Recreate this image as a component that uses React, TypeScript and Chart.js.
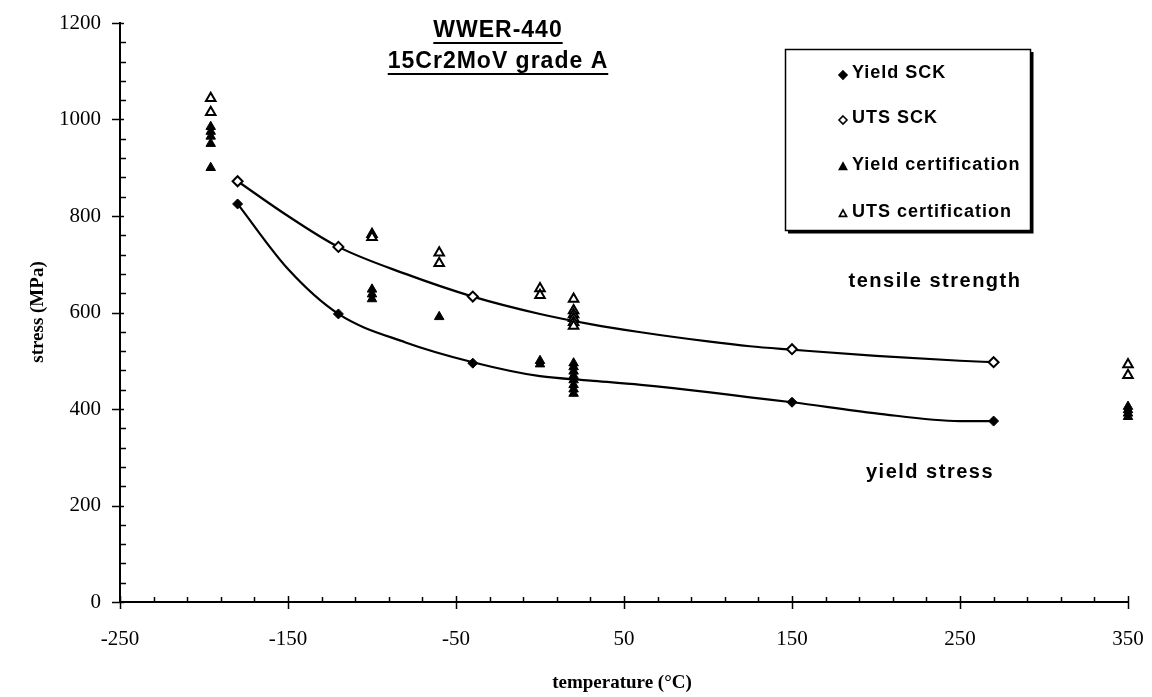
import React, { useEffect, useRef } from 'react';
import { Chart, registerables } from 'chart.js';

Chart.register(...registerables);

// ---- axis ticks ----
const X_TICKS = [-250, -150, -50, 50, 150, 250, 350];
const Y_TICKS = [0, 200, 400, 600, 800, 1000, 1200];
const X_MINOR_STEP = 20;
const Y_MINOR_STEP = 40;

// ---- SCK measurements ----
const YIELD_SCK_T = [-180, -120, -40, 150, 270];
const YIELD_SCK_V = [825, 597, 495, 414, 375];
const UTS_SCK_T = [-180, -120, -40, 150, 270];
const UTS_SCK_V = [872, 736, 633, 524, 497];

// ---- certification values ----
const YIELD_CERT_T = [-196, -196, -196, -196, -196, -100, -100, -100, -60, 0, 0, 20, 20, 20, 20, 20, 20, 20, 20, 350, 350, 350, 350];
const YIELD_CERT_V = [985, 975, 965, 950, 900, 648, 638, 628, 591, 500, 493, 495, 487, 478, 469, 460, 450, 441, 432, 405, 398, 391, 384];
const UTS_CERT_T = [-196, -196, -100, -100, -60, -60, 0, 0, 20, 20, 20, 20, 20, 20, 350, 350];
const UTS_CERT_V = [1044, 1015, 762, 756, 724, 702, 650, 636, 628, 604, 596, 588, 580, 572, 492, 470];

// ---- fitted curves ----
const YIELD_CURVE_T = [-180, -150, -120, -80, -40, 0, 30, 60, 100, 125, 150, 200, 250, 270];
const YIELD_CURVE_V = [825, 690, 597, 538, 497, 468, 459, 450, 435, 424, 414, 391, 375, 375];
const UTS_CURVE_T = [-180, -150, -120, -80, -40, 0, 30, 60, 100, 125, 150, 200, 250, 270];
const UTS_CURVE_V = [872, 800, 736, 680, 633, 597, 576, 559, 540, 530, 523, 510, 500, 497];

const LEGEND_LABELS = ['Yield SCK', 'UTS SCK', 'Yield certification', 'UTS certification'];
const TITLE_LINES = ['WWER-440', '15Cr2MoV grade A'];
const X_TITLE = 'temperature (°C)';
const Y_TITLE = 'stress (MPa)';
const CURVE_LABELS = ['tensile strength', 'yield stress'];

const pts = (t: number[], v: number[]) => t.map((x, i) => ({ x, y: v[i] }));

function marker(ctx: CanvasRenderingContext2D, kind: string, x: number, y: number, r: number, filled: boolean) {
  ctx.save();
  ctx.beginPath();
  if (kind === 'diamond') {
    ctx.moveTo(x, y - r);
    ctx.lineTo(x + r, y);
    ctx.lineTo(x, y + r);
    ctx.lineTo(x - r, y);
  } else {
    ctx.moveTo(x, y - r);
    ctx.lineTo(x + r * 0.9, y + r * 0.6);
    ctx.lineTo(x - r * 0.9, y + r * 0.6);
  }
  ctx.closePath();
  ctx.fillStyle = filled ? '#000' : '#fff';
  ctx.fill();
  ctx.lineWidth = 1.6;
  ctx.strokeStyle = '#000';
  ctx.stroke();
  ctx.restore();
}

const decorPlugin = {
  id: 'decor',
  afterDraw(chart: any) {
    const { ctx, chartArea, scales } = chart;
    const xs = scales.x;
    const ys = scales.y;
    ctx.save();
    ctx.strokeStyle = '#000';
    ctx.lineWidth = 1.5;
    // y ticks
    for (let v = Y_TICKS[0]; v <= Y_TICKS[Y_TICKS.length - 1]; v += Y_MINOR_STEP) {
      const py = Math.round(ys.getPixelForValue(v)) + 0.5;
      ctx.beginPath();
      if (Y_TICKS.includes(v)) {
        ctx.moveTo(chartArea.left - 8, py);
        ctx.lineTo(chartArea.left + 4, py);
      } else {
        ctx.moveTo(chartArea.left, py);
        ctx.lineTo(chartArea.left + 6, py);
      }
      ctx.stroke();
    }
    // x ticks
    for (let v = X_TICKS[0]; v <= X_TICKS[X_TICKS.length - 1]; v += X_MINOR_STEP) {
      const px = Math.round(xs.getPixelForValue(v)) + 0.5;
      ctx.beginPath();
      if (X_TICKS.includes(v)) {
        ctx.moveTo(px, chartArea.bottom - 6);
        ctx.lineTo(px, chartArea.bottom + 7);
      } else {
        ctx.moveTo(px, chartArea.bottom);
        ctx.lineTo(px, chartArea.bottom - 5);
      }
      ctx.stroke();
    }

    // title
    ctx.fillStyle = '#000';
    ctx.font = 'bold 23px "Liberation Sans", Arial, sans-serif';
    (ctx as any).letterSpacing = '1px';
    ctx.textAlign = 'center';
    ctx.textBaseline = 'middle';
    const titleX = 498;
    const titleY = [31, 62];
    TITLE_LINES.forEach((s, i) => {
      ctx.fillText(s, titleX, titleY[i]);
      const w = ctx.measureText(s).width;
      ctx.lineWidth = 1.8;
      ctx.beginPath();
      ctx.moveTo(titleX - w / 2, titleY[i] + 12);
      ctx.lineTo(titleX + w / 2, titleY[i] + 12);
      ctx.stroke();
    });

    // curve labels
    ctx.font = 'bold 20px "Liberation Sans", Arial, sans-serif';
    (ctx as any).letterSpacing = '1.5px';
    ctx.fillText(CURVE_LABELS[0], 935, 281);
    ctx.fillText(CURVE_LABELS[1], 930, 472);

    // legend box
    const bx = 785, by = 49, bw = 245, bh = 181;
    ctx.fillStyle = '#fff';
    ctx.fillRect(bx, by, bw, bh);
    ctx.lineWidth = 1.5;
    ctx.strokeRect(bx + 0.5, by + 0.5, bw, bh);
    ctx.lineWidth = 3;
    ctx.beginPath();
    ctx.moveTo(bx + 3, by + bh + 2);
    ctx.lineTo(bx + bw + 2, by + bh + 2);
    ctx.lineTo(bx + bw + 2, by + 3);
    ctx.stroke();
    const kinds = [['diamond', true], ['diamond', false], ['triangle', true], ['triangle', false]];
    const rowY = [73, 118, 165, 212];
    ctx.font = 'bold 18px "Liberation Sans", Arial, sans-serif';
    (ctx as any).letterSpacing = '1px';
    ctx.textAlign = 'left';
    LEGEND_LABELS.forEach((s, i) => {
      marker(ctx, kinds[i][0] as string, 843, rowY[i] + 2, 4, kinds[i][1] as boolean);
      ctx.fillStyle = '#000';
      ctx.fillText(s, 852, rowY[i]);
    });

    // axis titles
    (ctx as any).letterSpacing = '0px';
    ctx.font = 'bold 19px "Liberation Serif", "Times New Roman", serif';
    ctx.textAlign = 'center';
    ctx.fillText(X_TITLE, 622, 683);
    ctx.save();
    ctx.translate(38, 312);
    ctx.rotate(-Math.PI / 2);
    ctx.fillText(Y_TITLE, 0, 0);
    ctx.restore();
    ctx.restore();
  },
};

export default function App() {
  const ref = useRef<HTMLCanvasElement | null>(null);
  useEffect(() => {
    if (!ref.current) return;
    const tickFont = { family: '"Liberation Serif", "Times New Roman", serif', size: 21 };
    const chart = new Chart(ref.current, {
      type: 'scatter',
      data: {
        datasets: [
          {
            label: 'yield curve',
            data: pts(YIELD_CURVE_T, YIELD_CURVE_V),
            showLine: true,
            pointRadius: 0,
            borderColor: '#000',
            borderWidth: 2.2,
            cubicInterpolationMode: 'monotone',
            order: 10,
            clip: false,
          } as any,
          {
            label: 'uts curve',
            data: pts(UTS_CURVE_T, UTS_CURVE_V),
            showLine: true,
            pointRadius: 0,
            borderColor: '#000',
            borderWidth: 2.2,
            cubicInterpolationMode: 'monotone',
            order: 10,
            clip: false,
          },
          {
            label: LEGEND_LABELS[0],
            data: pts(YIELD_SCK_T, YIELD_SCK_V),
            pointStyle: 'rectRot',
            pointRadius: 5,
            backgroundColor: '#000',
            borderColor: '#000',
            borderWidth: 1,
            order: 1,
            clip: false,
          },
          {
            label: LEGEND_LABELS[1],
            data: pts(UTS_SCK_T, UTS_SCK_V),
            pointStyle: 'rectRot',
            pointRadius: 5,
            backgroundColor: '#fff',
            borderColor: '#000',
            borderWidth: 2,
            order: 1,
            clip: false,
          },
          {
            label: LEGEND_LABELS[2],
            data: pts(YIELD_CERT_T, YIELD_CERT_V),
            pointStyle: 'triangle',
            pointRadius: 5.5,
            backgroundColor: '#000',
            borderColor: '#000',
            borderWidth: 1,
            order: 2,
            clip: false,
          },
          {
            label: LEGEND_LABELS[3],
            data: pts(UTS_CERT_T, UTS_CERT_V),
            pointStyle: 'triangle',
            pointRadius: 5.5,
            backgroundColor: '#fff',
            borderColor: '#000',
            borderWidth: 2,
            order: 2,
            clip: false,
          },
        ],
      },
      options: {
        animation: false,
        responsive: false,
        devicePixelRatio: 1,
        layout: { padding: { top: 23, right: 24, bottom: 0, left: 0 } },
        plugins: { legend: { display: false }, tooltip: { enabled: false }, title: { display: false } },
        scales: {
          x: {
            type: 'linear',
            min: X_TICKS[0],
            max: X_TICKS[X_TICKS.length - 1],
            grid: { display: false, drawTicks: false },
            border: { display: true, color: '#000', width: 2 },
            ticks: { font: tickFont, color: '#000', padding: 25, maxRotation: 0, autoSkip: false, callback: (v: any) => String(v) },
            afterBuildTicks: (s: any) => { s.ticks = X_TICKS.map((value) => ({ value })); },
            afterFit: (s: any) => { s.height = 95; s.paddingLeft = 0; s.paddingRight = 0; },
          },
          y: {
            type: 'linear',
            min: Y_TICKS[0],
            max: Y_TICKS[Y_TICKS.length - 1],
            grid: { display: false, drawTicks: false },
            border: { display: true, color: '#000', width: 2 },
            ticks: { font: tickFont, color: '#000', padding: 19, autoSkip: false, callback: (v: any) => String(v) },
            afterBuildTicks: (s: any) => { s.ticks = Y_TICKS.map((value) => ({ value })); },
            afterFit: (s: any) => { s.width = 120; s.paddingTop = 0; s.paddingBottom = 0; },
          },
        },
      } as any,
      plugins: [decorPlugin],
    });
    return () => chart.destroy();
  }, []);
  return (
    <div style={{ position: 'absolute', left: 0, top: 0, width: 1152, height: 697, background: '#fff' }}>
      <canvas ref={ref} width={1152} height={697} style={{ display: 'block' }} />
    </div>
  );
}
